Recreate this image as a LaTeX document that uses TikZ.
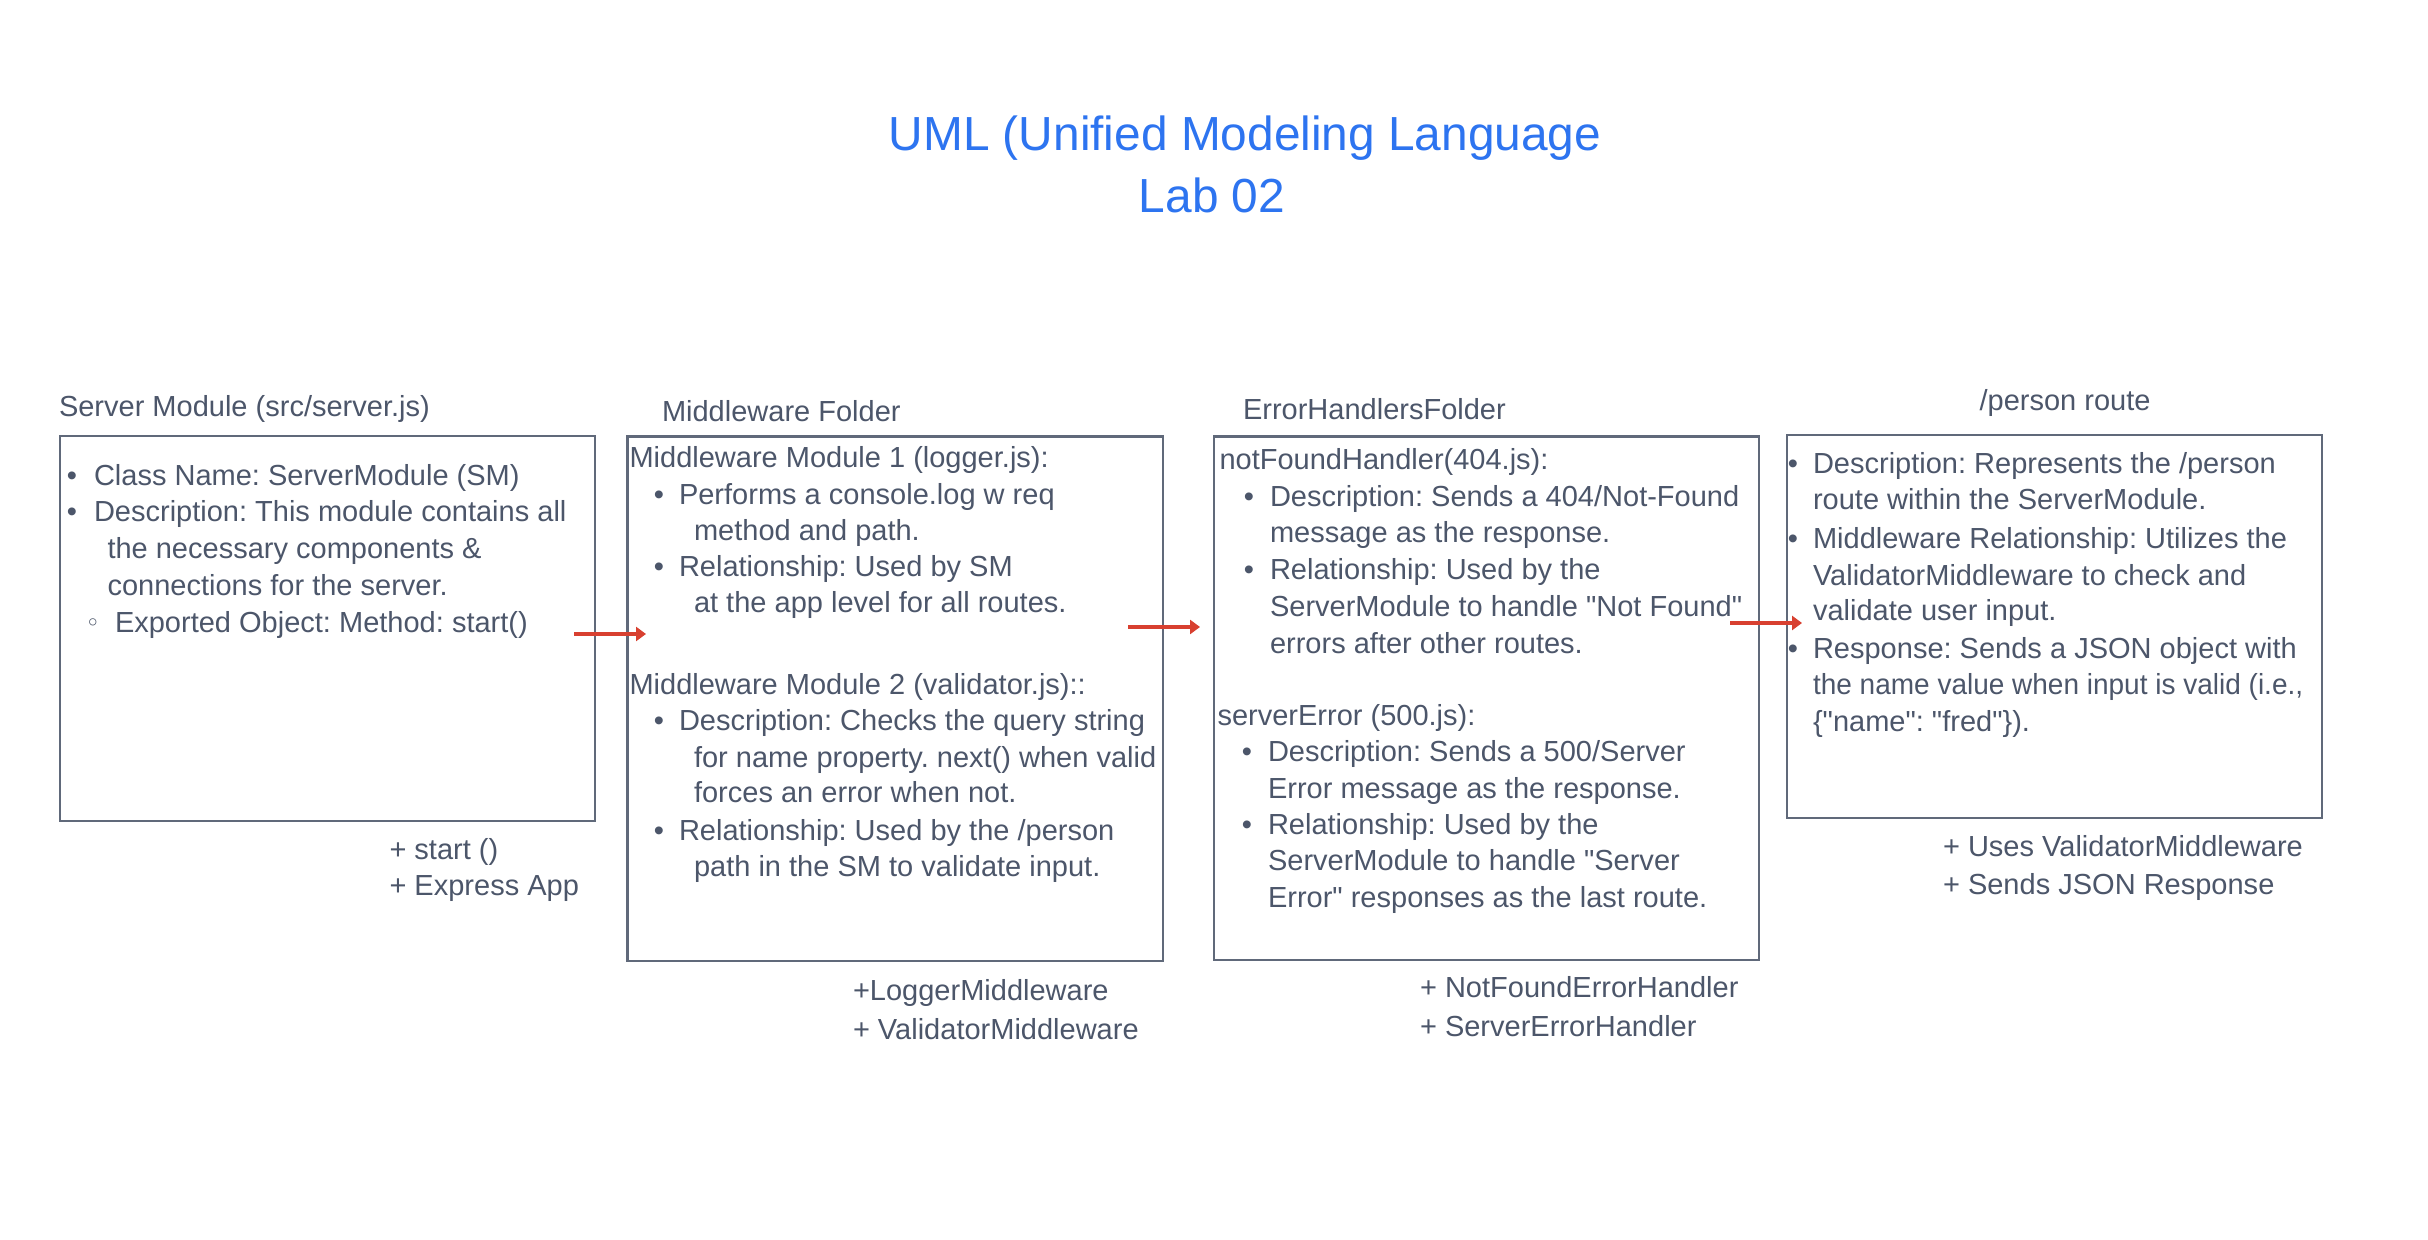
\documentclass[tikz,border=0pt]{standalone}
\usepackage{fontspec}
\usepackage{graphicx}
\setmainfont{Liberation Sans}[Ligatures=TeXOff]
\newfontfamily\symfont{DejaVu Sans}
\usetikzlibrary{arrows.meta}
\definecolor{ink}{RGB}{76,86,106}
\definecolor{edge}{RGB}{96,105,122}
\definecolor{titleblue}{RGB}{45,116,240}
\definecolor{arrowred}{RGB}{216,64,48}
\newcommand\bodyfont{\fontsize{8.25}{10}\selectfont}
\newcommand\titlefont{\fontsize{13.6}{16}\selectfont}
\frenchspacing
\begin{document}
\frenchspacing
\begin{tikzpicture}[x=0.01cm,y=-0.01cm,
 ln/.style={anchor=base west,inner sep=0pt,outer sep=0pt,font=\bodyfont,text=ink},
 dot/.style={anchor=base,inner sep=0pt,outer sep=0pt,font=\bodyfont,text=ink},
 ttl/.style={anchor=base,inner sep=0pt,font=\titlefont,text=titleblue},
 umlbox/.style={draw=edge,line width=0.6pt,anchor=north west,inner sep=0pt,outer sep=0pt},
 flow/.style={draw=arrowred,line width=1.1pt,-{Triangle[length=0.1cm,width=0.14cm]}}]

\useasboundingbox[fill=white] (0,0) rectangle (2428,1240);

% title
\node[ttl] (title1) at (1245,151) {UML (Unified Modeling Language};
\node[ttl] (title2) at (1212,213) {Lab 02};

% boxes
\node[umlbox,minimum width=5.35cm,minimum height=3.85cm] (sm) at (60,436) {};
\node[umlbox,minimum width=5.35cm,minimum height=5.245cm] (mw) at (627.5,436.5) {};
\node[umlbox,minimum width=5.445cm,minimum height=5.235cm] (eh) at (1214,436.5) {};
\node[umlbox,minimum width=5.35cm,minimum height=3.83cm] (pr) at (1787,435) {};

% Server module
\node[ln] (smh) at (59,417) {Server Module (src/server.js)};
\node[dot] (smb1) at (72,486) {•};
\node[ln] (sm1) at (94,486) {Class Name: ServerModule (SM)};
\node[dot] (smb2) at (72,522) {•};
\node[ln] (sm2) at (94,522) {Description: This module contains all};
\node[ln] (sm3) at (107.5,558) {the necessary components \&};
\node[ln] (sm4) at (107.5,595) {connections for the server.};
\node[dot,font={\symfont\fontsize{7}{8}\selectfont}] (smb3) at (93,631) {◦};
\node[ln] (sm5) at (115,632) {Exported Object: Method: start()};
\node[ln] (smo1) at (389.5,859) {+ start ()};
\node[ln] (smo2) at (389.5,895) {+ Express App};

% Middleware folder
\node[ln] (mwh) at (662,421.5) {Middleware Folder};
\node[ln] (mw1) at (629.5,468) {Middleware Module 1 (logger.js):};
\node[dot] (mwb1) at (659,504.5) {•};
\node[ln] (mw2) at (679,504.5) {Performs a console.log w req};
\node[ln] (mw3) at (694,541) {method and path.};
\node[dot] (mwb2) at (659,577) {•};
\node[ln] (mw4) at (679,577) {Relationship: Used by SM};
\node[ln] (mw5) at (694,613) {at the app level for all routes.};
\node[ln] (mw6) at (629.5,694) {Middleware Module 2 (validator.js)::};
\node[dot] (mwb3) at (659,730) {•};
\node[ln] (mw7) at (679,730) {Description: Checks the query string};
\node[ln] (mw8) at (694,767) {for name property. next() when valid};
\node[ln] (mw9) at (694,802.5) {forces an error when not.};
\node[dot] (mwb4) at (659,840) {•};
\node[ln] (mw10) at (679,840) {Relationship: Used by the /person};
\node[ln] (mw11) at (694,876) {path in the SM to validate input.};
\node[ln] (mwo1) at (853,1000) {+LoggerMiddleware};
\node[ln] (mwo2) at (853,1039) {+ ValidatorMiddleware};

% Error handlers folder
\node[ln] (ehh) at (1243,419.5) {ErrorHandlersFolder};
\node[ln] (eh1) at (1219.5,470) {notFoundHandler(404.js):};
\node[dot] (ehb1) at (1249,506.5) {•};
\node[ln] (eh2) at (1270,506.5) {Description: Sends a 404/Not-Found};
\node[ln] (eh3) at (1270,543) {message as the response.};
\node[dot] (ehb2) at (1249,579.7) {•};
\node[ln] (eh4) at (1270,579.7) {Relationship: Used by the};
\node[ln] (eh5) at (1270,616.5) {ServerModule to handle "Not Found"};
\node[ln] (eh6) at (1270,653) {errors after other routes.};
\node[ln] (eh7) at (1217.5,725) {serverError (500.js):};
\node[dot] (ehb3) at (1247,761.6) {•};
\node[ln] (eh8) at (1268,761.6) {Description: Sends a 500/Server};
\node[ln] (eh9) at (1268,798) {Error message as the response.};
\node[dot] (ehb4) at (1247,834) {•};
\node[ln] (eh10) at (1268,834) {Relationship: Used by the};
\node[ln] (eh11) at (1268,870) {ServerModule to handle "Server};
\node[ln] (eh12) at (1268,907) {Error" responses as the last route.};
\node[ln] (eho1) at (1420,997) {+ NotFoundErrorHandler};
\node[ln] (eho2) at (1420,1036) {+ ServerErrorHandler};

% /person route
\node[dot] (prh) at (2065,411) {/person route};
\node[dot] (prb1) at (1793,474) {•};
\node[ln] (pr1) at (1813,474) {Description: Represents the /person};
\node[ln] (pr2) at (1813,510) {route within the ServerModule.};
\node[dot] (prb2) at (1793,548) {•};
\node[ln] (pr3) at (1813,548) {Middleware Relationship: Utilizes the};
\node[ln] (pr4) at (1813,585) {ValidatorMiddleware to check and};
\node[ln] (pr5) at (1813,620) {validate user input.};
\node[dot] (prb3) at (1793,658) {•};
\node[ln] (pr6) at (1813,658) {Response: Sends a JSON object with};
\node[ln] (pr7) at (1813,694) {\scalebox{0.965}[1]{the name value when input is valid (i.e.,}};
\node[ln] (pr8) at (1813,731) {\{"name": "fred"\}).};
\node[ln] (pro1) at (1943,856) {+ Uses ValidatorMiddleware};
\node[ln] (pro2) at (1943,894) {+ Sends JSON Response};

% connectors
\coordinate (a1s) at (574,634);
\coordinate (a1e) at (646,634);
\coordinate (a2s) at (1128,627);
\coordinate (a2e) at (1200,627);
\coordinate (a3s) at (1730,623);
\coordinate (a3e) at (1802,623);
\draw[flow] (a1s) -- (a1e);
\draw[flow] (a2s) -- (a2e);
\draw[flow] (a3s) -- (a3e);
\end{tikzpicture}
\end{document}
